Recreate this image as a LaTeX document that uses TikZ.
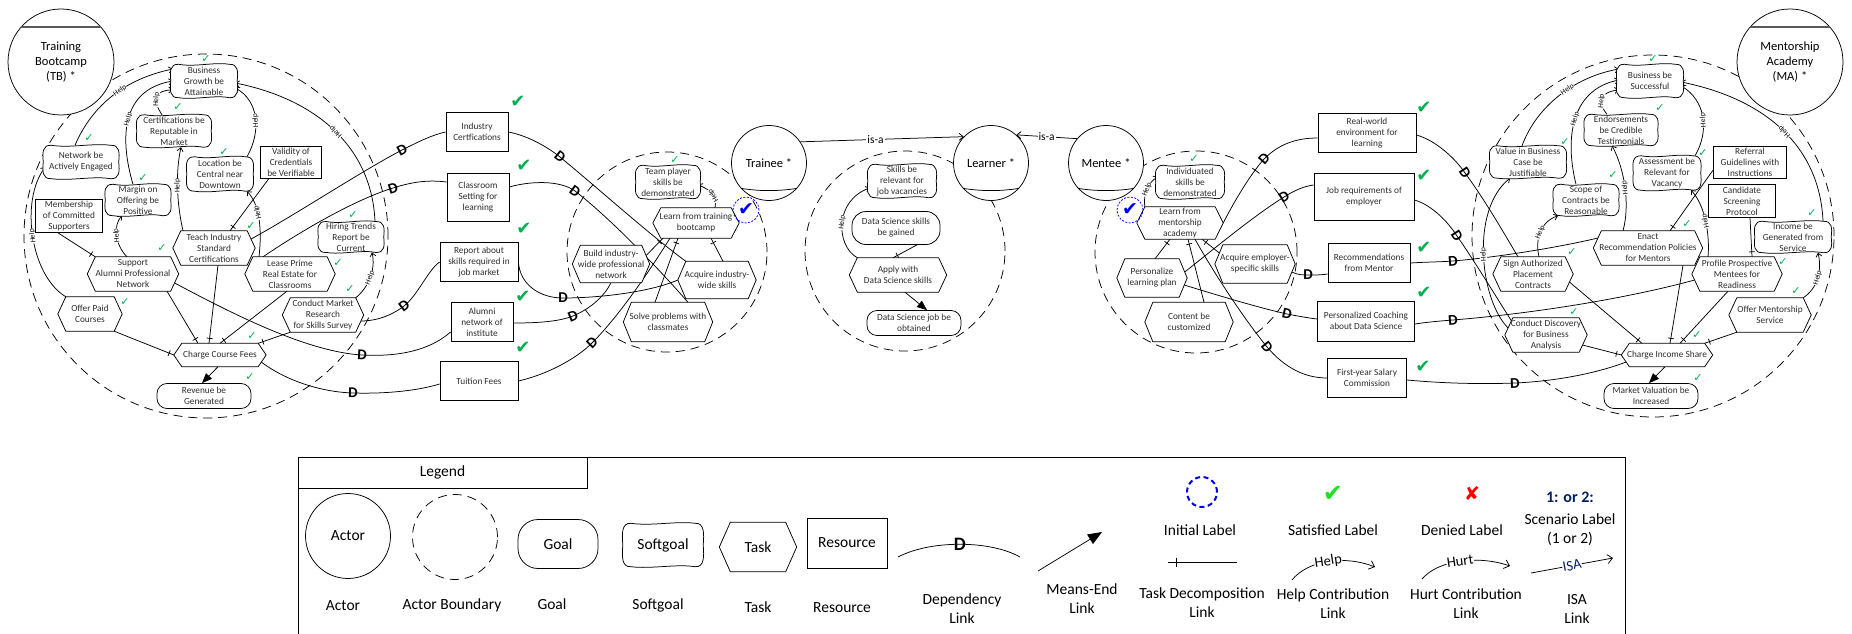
\documentclass[tikz,border=0pt]{standalone}
\usepackage{fontspec}
\setmainfont{Carlito}
\newfontfamily\symfont{DejaVu Sans}
\usetikzlibrary{arrows.meta,calc,decorations.markings}
\definecolor{chkgreen}{RGB}{0,176,80}
\definecolor{limegreen}{RGB}{30,225,30}
\definecolor{initblue}{RGB}{0,0,235}
\definecolor{navy}{RGB}{0,32,96}
\pgfdeclarelayer{bound}
\pgfdeclarelayer{links}
\pgfdeclarelayer{shapes}
\pgfsetlayers{bound,links,shapes,main}

% softgoal outline around a named node
\newcommand\sgpath[1]{($(#1.north west)+(6,0)$)
 .. controls ($(#1.north west)!0.35!(#1.north east)+(0,-3)$) and ($(#1.north west)!0.68!(#1.north east)+(0,2.5)$) .. ($(#1.north east)+(-6,0)$)
 .. controls ($(#1.north east)+(3,0.5)$) and ($(#1.north east)!0.45!(#1.east)+(3,0)$) .. ($(#1.east)+(2,0)$)
 .. controls ($(#1.east)!0.55!(#1.south east)+(3,0)$) and ($(#1.south east)+(3,-0.5)$) .. ($(#1.south east)+(-6,0)$)
 .. controls ($(#1.south west)!0.68!(#1.south east)+(0,3)$) and ($(#1.south west)!0.35!(#1.south east)+(0,-2.5)$) .. ($(#1.south west)+(6,0)$)
 .. controls ($(#1.south west)+(-3,-0.5)$) and ($(#1.south west)!0.45!(#1.west)+(-3,0)$) .. ($(#1.west)+(-2,0)$)
 .. controls ($(#1.west)!0.55!(#1.north west)+(-3,0)$) and ($(#1.north west)+(-3,0.5)$) .. ($(#1.north west)+(6,0)$) -- cycle}
% task hexagon around a named node
\newcommand\hexpath[2]{([xshift=#2]#1.north west) -- ([xshift=-#2]#1.north east) -- (#1.east) -- ([xshift=-#2]#1.south east) -- ([xshift=#2]#1.south west) -- (#1.west) -- cycle}

\tikzset{
 base/.style={align=center, inner sep=1pt, text=black!82, font=\fontsize{9.3}{11}\selectfont},
 sz/.style 2 args={minimum width=#1pt, minimum height=#2pt},
 resnode/.style={base, draw=black, fill=white, line width=.75pt},
 goalnode/.style={base, draw=black, fill=white, line width=.75pt, rounded corners=10pt},
 tasknode/.style={base},
 softnode/.style={base},
 outl/.style={draw=black, fill=white, line width=.75pt},
 link/.style={line width=.75pt},
 helpl/.style={link, -{Straight Barb[length=3.5pt,width=6pt]}},
 hlab/.style={font=\fontsize{7.5}{7.5}\selectfont, fill=white, inner sep=.4pt, sloped, allow upside down},
 meansend/.style={link, -{Triangle[length=10pt,width=8pt]}},
 decomp/.style={link, postaction={decorate}, decoration={markings, mark=at position -5pt with {\draw[line width=.75pt] (0,-3pt) -- (0,3pt);}}},
 dmark/.style={font=\bfseries\fontsize{15}{15}\selectfont, inner sep=0pt, sloped},
 bnd/.style={circle, draw, line width=.75pt, dash pattern=on 9pt off 6pt, inner sep=0pt},
 actor/.style={circle, draw, fill=white, line width=.75pt, font=\fontsize{12.5}{15}\selectfont, align=center, inner sep=0pt},
 schk/.style={font=\symfont\fontsize{11}{11}\selectfont, text=chkgreen, inner sep=0pt},
 bchk/.style={font=\symfont\fontsize{18}{18}\selectfont, text=chkgreen, inner sep=0pt},
 initl/.style={circle, draw=initblue, dash pattern=on 2pt off 1.5pt, line width=.75pt, minimum size=26pt, inner sep=0pt, font=\symfont\fontsize{19}{19}\selectfont, text=initblue},
 lgtxt/.style={font=\fontsize{15.5}{19}\selectfont, align=center, inner sep=0pt, text=black},
 lglab/.style={font=\fontsize{14.5}{15}\selectfont, fill=white, inner sep=.5pt, sloped},
 isalab/.style={font=\fontsize{11.5}{12}\selectfont, fill=white, inner sep=1pt},
}

\begin{document}
\begin{tikzpicture}[x=1pt, y=1pt]
\useasboundingbox (0,0) rectangle (1852,-634);

% ---------- actor boundaries ----------
\begin{pgfonlayer}{bound}
\fill[white] (0,0) rectangle (1852,-634);
\node[bnd, minimum size=364pt] (tb-b) at (206,-236) {};
\node[bnd, minimum size=200pt] (tr-b) at (667,-252) {};
\node[bnd, minimum size=200pt] (le-b) at (905,-251) {};
\node[bnd, minimum size=202pt] (me-b) at (1196,-252) {};
\node[bnd, minimum size=362pt] (ma-b) at (1653,-236) {};
\end{pgfonlayer}

% ---------- actors ----------
\node[actor, minimum size=106pt] (tb) at (61,-62) {Training\\Bootcamp\\(TB) *};
\draw[line width=1.6pt, black!65] (tb.139) -- (tb.41);
\node[actor, minimum size=106pt] (ma) at (1790,-62) {Mentorship\\Academy\\(MA) *};
\draw[line width=1.6pt, black!65] (ma.139) -- (ma.41);
\node[actor, minimum size=75pt] (tr) at (769,-163) {Trainee *};
\node[actor, minimum size=75pt] (le) at (991,-163) {Learner *};
\node[actor, minimum size=75pt] (me) at (1106,-163) {Mentee *};
\foreach \a in {tr,le,me}
  \draw[link] (\a.222) .. controls ($(\a.222)!0.33!(\a.318)+(0,-3)$) and ($(\a.222)!0.67!(\a.318)+(0,-3)$) .. (\a.318);

% ---------- Training Bootcamp ----------
\node[softnode, sz={62}{33}] (tb-bg) at (204,-81) {Business\\Growth be\\Attainable};
\node[softnode, sz={70}{32}] (tb-cert) at (174,-131) {Certifications be\\Reputable in\\Market};
\node[softnode, sz={71}{33}] (tb-net) at (81,-162) {Network be\\Actively Engaged};
\node[softnode, sz={62}{34}] (tb-loc) at (220,-174) {Location be\\Central near\\Downtown};
\node[resnode, sz={61}{32}] (tb-val) at (291,-162) {Validity of\\Credentials\\be Verifiable};
\node[softnode, sz={61}{31}] (tb-mar) at (138,-200) {Margin on\\Offering be\\Positive};
\node[resnode, sz={67}{33}] (tb-mem) at (69,-216) {Membership\\of Committed\\Supporters};
\node[softnode, sz={61}{30}] (tb-hir) at (351,-237) {Hiring Trends\\Report be\\Current};
\node[tasknode, sz={82}{34}] (tb-teach) at (214,-248) {Teach Industry\\Standard\\Certifications};
\node[tasknode, sz={91}{34}] (tb-sup) at (133,-274) {Support\\Alumni Professional\\Network};
\node[tasknode, sz={90}{34}] (tb-lease) at (290,-274) {Lease Prime\\Real Estate for\\Classrooms};
\node[tasknode, sz={64}{34}] (tb-offer) at (90,-314) {Offer Paid\\Courses};
\node[tasknode, sz={81}{34}] (tb-cond) at (323,-315) {Conduct Market\\Research\\for Skills Survey};
\node[tasknode, sz={92}{23}] (tb-charge) at (220,-355) {Charge Course Fees};
\node[goalnode, sz={94}{25}] (tb-rev) at (204,-396) {Revenue be\\Generated};

% ---------- resources between TB and Trainee ----------
\node[resnode, sz={62}{39}] (r-ind) at (477,-132) {Industry\\Certfications};
\node[resnode, sz={62}{48}] (r-cls) at (478,-197) {Classroom\\Setting for\\learning};
\node[resnode, sz={78}{39}] (r-rep) at (479,-262) {Report about\\skills required in\\job market};
\node[resnode, sz={62}{39}] (r-alu) at (482,-322) {Alumni\\network of\\institute};
\node[resnode, sz={78}{39}] (r-tui) at (479,-381) {Tuition Fees};

% ---------- Trainee ----------
\node[softnode, sz={60}{33}] (tr-team) at (668,-182) {Team player\\skills be\\demonstrated};
\node[tasknode, sz={86}{30}] (tr-lrn) at (696,-223) {Learn from training\\bootcamp};
\node[tasknode, sz={77}{37}] (tr-bld) at (611,-264) {Build industry-\\wide professional\\network};
\node[tasknode, sz={78}{37}] (tr-acq) at (717,-280) {Acquire industry-\\wide skills};
\node[tasknode, sz={89}{39}] (tr-sol) at (668,-322) {Solve problems with\\classmates};
\node[initl] (tr-init) at (746,-210) {✔};

% ---------- Learner ----------
\node[softnode, sz={64}{33}] (le-sk) at (902,-181) {Skills be\\relevant for\\job vacancies};
\node[goalnode, rounded corners=14pt, sz={88}{33}] (le-gain) at (896,-228) {Data Science skills\\be gained};
\node[tasknode, sz={97}{34}] (le-app) at (898,-275) {Apply with\\Data Science skills};
\node[goalnode, sz={94}{25}] (le-job) at (914,-323) {Data Science job be\\obtained};

% ---------- Mentee ----------
\node[softnode, sz={64}{33}] (me-ind) at (1190,-182) {Individuated\\skills be\\demonstrated};
\node[tasknode, sz={86}{32}] (me-lrn) at (1180,-223) {Learn from\\mentorship\\academy};
\node[tasknode, sz={70}{38}] (me-per) at (1152,-278) {Personalize\\learning plan};
\node[tasknode, sz={80}{38}] (me-acq) at (1255,-264) {Acquire employer-\\specific skills};
\node[tasknode, sz={88}{39}] (me-con) at (1189,-322) {Content be\\customized};
\node[initl] (me-init) at (1130,-210) {✔};

% ---------- resources between Mentee and MA ----------
\node[resnode, sz={98}{39}] (r-rw) at (1367,-133) {Real-world\\environment for\\learning};
\node[resnode, sz={100}{47}] (r-job) at (1364,-197) {Job requirements of\\employer};
\node[resnode, sz={82}{39}] (r-rec) at (1369,-263) {Recommendations\\from Mentor};
\node[resnode, sz={97}{40}] (r-pc) at (1366,-321) {Personalized Coaching\\about Data Science};
\node[resnode, sz={79}{39}] (r-fy) at (1367,-378) {First-year Salary\\Commission};

% ---------- Mentorship Academy ----------
\node[softnode, sz={62}{33}] (ma-bs) at (1650,-81) {Business be\\Successful};
\node[softnode, sz={69}{31}] (ma-end) at (1621,-130) {Endorsements\\be Credible\\Testimonials};
\node[softnode, sz={72}{32}] (ma-val) at (1528,-162) {Value in Business\\Case be\\Justifiable};
\node[softnode, sz={63}{34}] (ma-ass) at (1667,-173) {Assessment be\\Relevant for\\Vacancy};
\node[resnode, sz={73}{32}] (ma-ref) at (1750,-162) {Referral\\Guidelines with\\Instructions};
\node[softnode, sz={61}{31}] (ma-sco) at (1586,-200) {Scope of\\Contracts be\\Reasonable};
\node[resnode, sz={67}{33}] (ma-can) at (1742,-201) {Candidate\\Screening\\Protocol};
\node[softnode, sz={72}{31}] (ma-inc) at (1793,-237) {Income be\\Generated from\\Service};
\node[tasknode, sz={109}{34}] (ma-enact) at (1648,-248) {Enact\\Recommendation Policies\\for Mentors};
\node[tasknode, sz={80}{34}] (ma-sign) at (1533,-274) {Sign Authorized\\Placement\\Contracts};
\node[tasknode, sz={90}{34}] (ma-prof) at (1737,-274) {Profile Prospective\\Mentees for\\Readiness};
\node[tasknode, sz={82}{34}] (ma-offer) at (1770,-315) {Offer Mentorship\\Service};
\node[tasknode, sz={82}{34}] (ma-cond) at (1546,-335) {Conduct Discovery\\for Business\\Analysis};
\node[tasknode, sz={91}{23}] (ma-charge) at (1667,-355) {Charge Income Share};
\node[goalnode, sz={94}{25}] (ma-mkt) at (1651,-396) {Market Valuation be\\Increased};

% ---------- satisfied labels ----------
\foreach \x/\y [count=\i] in {206/59,178/107,89/138,224/152,143/178,353/215,251/226,162/248,338/263,125/302,350/289,252/336,250/377,675/160,1194/159,1653/59,1660/108,1565/142,1703/153,1613/175,1812/213,1687/224,1572/252,1783/262,1796/291,1574/312,1697/335,1698/378}
  \node[schk] (sc\i) at (\x,-\y) {✓};
\foreach \x/\y [count=\i] in {518/102,524/166,524/229,523/297,523/348,1424/108,1424/176,1424/248,1424/293,1423/367}
  \node[bchk] (bc\i) at (\x,-\y) {✔};

% ---------- legend ----------
\draw[line width=.9pt] (298,-634) -- (298,-457) -- (1625,-457) -- (1625,-634);
\node[draw, line width=.9pt, sz={289}{31}, lgtxt] (lg-head) at (442.5,-472.5) {Legend};
\node[actor, minimum size=85pt, font=\fontsize{15.5}{19}\selectfont] (lg-actor) at (348,-536) {Actor};
\node[bnd, minimum size=85pt] (lg-bound) at (455,-537) {};
\node[goalnode, rounded corners=20pt, sz={80}{49}, lgtxt] (lg-goal) at (558,-544) {Goal};
\node[softnode, sz={76}{43}, lgtxt] (lg-soft) at (663,-545) {Softgoal};
\node[tasknode, sz={77}{49}, lgtxt] (lg-task) at (758,-547) {Task};
\node[resnode, sz={80}{50}, lgtxt] (lg-res) at (847,-543) {Resource};
\node[circle, draw=initblue, line width=2pt, dash pattern=on 5pt off 3.5pt, minimum size=30pt, inner sep=0pt] (lg-init) at (1202,-492) {};
\node[font=\symfont\fontsize{24}{24}\selectfont, text=limegreen, inner sep=0pt] (lg-sat) at (1333,-494) {✔};
\node[font=\symfont\fontsize{19}{19}\selectfont, text=red, inner sep=0pt] (lg-den) at (1472,-493) {✘};
\node[font=\bfseries\fontsize{16}{16}\selectfont, text=navy, inner sep=0pt] (lg-scn) at (1570,-497) {1: or 2:};
\coordinate (lg-da) at (898,-557);  \coordinate (lg-db) at (1020,-557);
\coordinate (lg-ma) at (1038,-571); \coordinate (lg-mb) at (1102,-532);
\coordinate (lg-ta) at (1237,-562); \coordinate (lg-tb) at (1168,-562);
\coordinate (lg-ha) at (1292,-580); \coordinate (lg-hb) at (1375,-567);
\coordinate (lg-ua) at (1422,-579); \coordinate (lg-ub) at (1510,-566);
\coordinate (lg-ia) at (1531,-573); \coordinate (lg-ib) at (1613,-558);
\draw[link] (lg-da) .. controls (930,-540) and (990,-540) .. (lg-db) node[pos=.5, dmark, font=\bfseries\fontsize{19}{19}\selectfont]{D};
\draw[link, -{Triangle[length=14pt,width=11pt]}] (lg-ma) -- (lg-mb);
\draw[link, postaction={decorate}, decoration={markings, mark=at position -8pt with {\draw[line width=.75pt] (0,-4.5pt) -- (0,4.5pt);}}] (lg-ta) -- (lg-tb);
\draw[link, -{Straight Barb[length=5pt,width=9pt]}] (lg-ha) .. controls (1308,-560) and (1345,-555) .. (lg-hb) node[pos=.5, lglab]{Help};
\draw[link, -{Straight Barb[length=5pt,width=9pt]}] (lg-ua) .. controls (1438,-560) and (1478,-555) .. (lg-ub) node[pos=.5, lglab]{Hurt};
\draw[link, -{Straight Barb[length=5pt,width=9pt]}] (lg-ia) -- (lg-ib) node[pos=.5, lglab, text=navy]{ISA};
\node[lgtxt] (lt-actor) at (343,-606) {Actor};
\node[lgtxt] (lt-bound) at (452,-605) {Actor Boundary};
\node[lgtxt] (lt-goal) at (552,-604) {Goal};
\node[lgtxt] (lt-soft) at (658,-605) {Softgoal};
\node[lgtxt] (lt-task) at (758,-607) {Task};
\node[lgtxt] (lt-res) at (842,-608) {Resource};
\node[lgtxt] (lt-dep) at (962,-608.5) {Dependency\\Link};
\node[lgtxt] (lt-me) at (1082,-599) {Means-End\\Link};
\node[lgtxt] (lt-init) at (1200,-530) {Initial Label};
\node[lgtxt] (lt-dec) at (1202,-602.5) {Task Decomposition\\Link};
\node[lgtxt] (lt-sat) at (1333,-530) {Satisfied Label};
\node[lgtxt] (lt-help) at (1333,-603.5) {Help Contribution\\Link};
\node[lgtxt] (lt-den) at (1462,-530) {Denied Label};
\node[lgtxt] (lt-hurt) at (1466,-603.5) {Hurt Contribution\\Link};
\node[lgtxt] (lt-scn) at (1570,-530) {Scenario Label\\(1 or 2)};
\node[lgtxt] (lt-isa) at (1577,-608.5) {ISA\\Link};

% ---------- softgoal and task outlines ----------
\begin{pgfonlayer}{shapes}
\foreach \n in {tb-bg,tb-cert,tb-net,tb-loc,tb-mar,tb-hir,tr-team,le-sk,me-ind,ma-bs,ma-end,ma-val,ma-ass,ma-sco,ma-inc,lg-soft}
  \path[outl] \sgpath{\n};
\foreach \n in {tb-teach,tb-sup,tb-lease,tb-offer,tb-cond,tb-charge,tr-lrn,tr-bld,tr-acq,tr-sol,le-app,me-lrn,me-per,me-acq,me-con,ma-enact,ma-sign,ma-prof,ma-offer,ma-cond,ma-charge}
  \path[outl] \hexpath{\n}{8pt};
\path[outl] \hexpath{lg-task}{11pt};
\end{pgfonlayer}

% ---------- links ----------
\begin{pgfonlayer}{links}
% is-a
\draw[link, -{Straight Barb[length=4pt,width=7pt]}] (tr.34) -- (le.136) node[pos=.46, isalab]{is-a};
\draw[link, -{Straight Barb[length=4pt,width=7pt]}] (me.140) -- (le.48) node[pos=.5, isalab]{is-a};

% TB contributions
\draw[helpl] ([xshift=-6pt]tb-net.north) .. controls (90,-110) and (120,-80) .. ([yshift=12pt]tb-bg.west) node[hlab,pos=.6]{Help};
\draw[helpl] ([xshift=8pt]tb-offer.north west) .. controls (30,-275) and (20,-200) .. ([yshift=-5pt]tb-net.west) node[hlab,pos=.5]{Help};
\draw[helpl] ([xshift=-5pt]tb-mar.north) .. controls (120,-140) and (120,-90) .. (tb-bg.west) node[hlab,pos=.5]{Help};
\draw[helpl] ([xshift=-12pt]tb-cert.north) .. controls (152,-100) and (155,-90) .. ([yshift=-9pt]tb-bg.west) node[hlab,pos=.4]{Help};
\draw[helpl] ([xshift=27pt]tb-loc.north) .. controls (262,-130) and (258,-100) .. ([yshift=-7pt]tb-bg.east) node[hlab,pos=.45]{Help};
\draw[helpl] ([xshift=24pt]tb-hir.north) .. controls (372,-150) and (320,-100) .. ([yshift=-2pt]tb-bg.east) node[hlab,pos=.5]{Help};
\draw[helpl] ([xshift=-6pt]tb-sup.north) .. controls (115,-245) and (113,-225) .. ([xshift=-16pt]tb-mar.south) node[hlab,pos=.5]{Help};
\draw[helpl] ([xshift=-31pt]tb-teach.north) .. controls (176,-200) and (176,-170) .. ([xshift=7pt]tb-cert.south) node[hlab,pos=.5]{Help};
\draw[helpl] ([xshift=-31pt]tb-lease.north) .. controls (262,-230) and (260,-205) .. ([xshift=27pt]tb-loc.south) node[hlab,pos=.6]{Help};
\draw[helpl] ([xshift=-8pt]tb-cond.north east) .. controls (368,-288) and (376,-270) .. ([xshift=21pt]tb-hir.south) node[hlab,pos=.5]{Help};
% TB decompositions
\draw[decomp] ([xshift=-22pt]tb-val.south) -- ([xshift=16pt]tb-teach.north);
\draw[decomp] ([xshift=-11pt]tb-mem.south) -- ([xshift=8pt]tb-sup.north west);
\draw[decomp] ([xshift=34pt]tb-sup.south) -- ([xshift=-22pt]tb-charge.north);
\draw[decomp] ([xshift=4pt]tb-teach.south) -- ([xshift=-11pt]tb-charge.north);
\draw[decomp] ([xshift=-3pt]tb-lease.south) -- (tb-charge.north);
\draw[decomp] ([xshift=-8pt]tb-offer.south east) -- (tb-charge.west);
\draw[decomp] ([xshift=8pt]tb-cond.south west) -- ([xshift=-8pt]tb-charge.north east);
\draw[meansend] ([xshift=-2pt]tb-charge.south) -- ([xshift=-2pt]tb-rev.north);
% TB dependencies
\draw[link] ([xshift=-4pt,yshift=9pt]tb-teach.east) .. controls (300,-212) and (360,-172) .. (402,-150) node[dmark,pos=1]{D} .. controls (420,-141) and (432,-135) .. (r-ind.west);
\draw[link] ([xshift=-27pt]tb-lease.north) .. controls (310,-225) and (360,-198) .. (393,-188) node[dmark,pos=1]{D} .. controls (415,-181) and (430,-180) .. ([yshift=15pt]r-cls.west);
\draw[link] ([xshift=-3pt,yshift=-6pt]tb-cond.east) .. controls (380,-321) and (395,-313) .. (404,-306) node[dmark,pos=1]{D} .. controls (418,-295) and (428,-270) .. (r-rep.west);
\draw[link] ([xshift=-4pt,yshift=-9pt]tb-sup.east) .. controls (240,-318) and (310,-352) .. (362,-355) node[dmark,pos=1]{D} .. controls (400,-357) and (430,-350) .. ([yshift=-10pt]r-alu.west);
\draw[link] ([xshift=-5pt,yshift=-7pt]tb-charge.east) .. controls (285,-380) and (320,-392) .. (353,-393) node[dmark,pos=1]{D} .. controls (390,-394) and (420,-390) .. ([yshift=-3pt]r-tui.west);
% resources to Trainee
\draw[link] (r-ind.east) .. controls (525,-135) and (545,-145) .. (560,-157) node[dmark,pos=1]{D} .. controls (600,-190) and (650,-235) .. ([xshift=8pt]tr-acq.north west);
\draw[link] ([yshift=10pt]r-cls.east) .. controls (530,-181) and (560,-180) .. (575,-191) node[dmark,pos=1]{D} .. controls (610,-218) and (660,-270) .. ([xshift=20pt]tr-sol.north);
\draw[link] (r-rep.east) .. controls (520,-285) and (540,-298) .. (563,-298) node[dmark,pos=1]{D} .. controls (600,-298) and (650,-292) .. (tr-acq.west);
\draw[link] ([yshift=-1pt]r-alu.east) .. controls (535,-323) and (558,-322) .. (573,-316) node[dmark,pos=1]{D} .. controls (592,-308) and (605,-295) .. (tr-bld.south);
\draw[link] (r-tui.east) .. controls (545,-375) and (575,-360) .. (592,-343) node[dmark,pos=1]{D} .. controls (620,-315) and (650,-270) .. ([xshift=-26pt]tr-lrn.south);
% Trainee
\draw[decomp] ([xshift=-4pt,yshift=8pt]tr-bld.east) -- ([xshift=-33pt]tr-lrn.south);
\draw[decomp] ([xshift=-13pt]tr-sol.north) -- ([xshift=-18pt]tr-lrn.south);
\draw[decomp] ([xshift=6pt]tr-acq.north) -- ([xshift=15pt]tr-lrn.south);
\draw[helpl] ([xshift=19pt]tr-lrn.north) .. controls (717,-198) and (712,-190) .. ([yshift=-3pt]tr-team.east) node[hlab,pos=.45]{Help};
% Learner
\draw[helpl] ([xshift=8pt]le-app.north west) .. controls (835,-245) and (835,-200) .. ([yshift=-7pt]le-sk.west) node[hlab,pos=.5]{Help};
\draw[decomp] ([xshift=21pt]le-gain.south) -- ([xshift=-5pt]le-app.north);
\draw[meansend] ([xshift=7pt]le-app.south) -- ([xshift=13pt]le-job.north);
% Mentee
\draw[helpl] ([xshift=8pt]me-lrn.north west) .. controls (1143,-195) and (1148,-182) .. ([yshift=5pt]me-ind.west) node[hlab,pos=.5]{Help};
\draw[decomp] ([xshift=3pt]me-per.north) -- ([xshift=-10pt]me-lrn.south);
\draw[decomp] ([xshift=15pt]me-con.north) -- ([xshift=8pt]me-lrn.south);
\draw[decomp] ([xshift=4.5pt,yshift=11pt]me-acq.west) -- ([xshift=22pt]me-lrn.south);
\draw[link] (me-lrn.east) .. controls (1235,-200) and (1250,-175) .. (1264,-159) node[dmark,pos=1]{D} .. controls (1280,-143) and (1298,-138) .. ([yshift=-5pt]r-rw.west);
\draw[link] ([xshift=-2.5pt,yshift=6pt]me-per.east) .. controls (1215,-248) and (1255,-215) .. (1284,-197) node[dmark,pos=1]{D} .. controls (1295,-190) and (1305,-186) .. ([yshift=12pt]r-job.west);
\draw[link] ([xshift=-3.4pt,yshift=-8pt]me-acq.east) .. controls (1298,-275) and (1303,-275) .. (1308,-275) node[dmark,pos=1]{D} .. controls (1315,-275) and (1322,-275) .. ([yshift=-11pt]r-rec.west);
\draw[link] ([xshift=-3pt,yshift=-7pt]me-per.east) .. controls (1220,-296) and (1260,-308) .. (1287,-314) node[dmark,pos=1]{D} .. controls (1298,-316) and (1308,-318) .. ([yshift=2pt]r-pc.west);
\draw[link] ([xshift=15pt]me-lrn.south) .. controls (1215,-275) and (1245,-320) .. (1267,-347) node[dmark,pos=1]{D} .. controls (1285,-368) and (1305,-378) .. (r-fy.west);
% resources to MA
\draw[link] ([yshift=-2pt]r-rw.east) .. controls (1435,-140) and (1455,-158) .. (1465,-173) node[dmark,pos=1]{D} .. controls (1485,-200) and (1505,-235) .. ([xshift=-15pt]ma-sign.north);
\draw[link] ([yshift=-3pt]r-job.east) .. controls (1432,-205) and (1448,-222) .. (1457,-236) node[dmark,pos=1]{D} .. controls (1475,-262) and (1495,-295) .. ([xshift=6.6pt,yshift=-3pt]ma-cond.north west);
\draw[link] (r-rec.east) .. controls (1425,-262) and (1440,-262) .. (1453,-261) node[dmark,pos=1]{D} .. controls (1500,-257) and (1560,-247) .. ([xshift=4.7pt,yshift=10pt]ma-enact.west);
\draw[link] ([yshift=-3pt]r-pc.east) .. controls (1428,-322) and (1440,-321) .. (1453,-320) node[dmark,pos=1]{D} .. controls (1550,-312) and (1640,-295) .. ([xshift=2.8pt,yshift=-6pt]ma-prof.west);
\draw[link] ([yshift=-2pt]r-fy.east) .. controls (1450,-384) and (1490,-384) .. (1515,-383) node[dmark,pos=1]{D} .. controls (1560,-381) and (1600,-372) .. ([xshift=4.9pt,yshift=-7pt]ma-charge.west);
% MA contributions
\draw[helpl] ([xshift=-6pt]ma-val.north) .. controls (1535,-110) and (1570,-78) .. ([yshift=12pt]ma-bs.west) node[hlab,pos=.6]{Help};
\draw[helpl] ([xshift=-10pt]ma-sco.north) .. controls (1565,-140) and (1570,-90) .. ([yshift=1pt]ma-bs.west) node[hlab,pos=.5]{Help};
\draw[helpl] ([xshift=-14pt]ma-end.north) .. controls (1597,-102) and (1600,-92) .. ([yshift=-9pt]ma-bs.west) node[hlab,pos=.4]{Help};
\draw[helpl] ([xshift=28pt]ma-ass.north) .. controls (1710,-130) and (1705,-100) .. ([yshift=-5pt]ma-bs.east) node[hlab,pos=.45]{Help};
\draw[helpl] ([xshift=30pt]ma-inc.north) .. controls (1820,-150) and (1770,-100) .. ([yshift=-1pt]ma-bs.east) node[hlab,pos=.5]{Help};
\draw[helpl] ([xshift=6pt]ma-sign.north) .. controls (1535,-240) and (1540,-222) .. ([xshift=-28pt]ma-sco.south) node[hlab,pos=.5]{Help};
\draw[helpl] ([xshift=-25pt]ma-enact.north) .. controls (1630,-205) and (1625,-170) .. ([xshift=-9pt]ma-end.south) node[hlab,pos=.5]{Help};
\draw[helpl] ([xshift=-29pt]ma-prof.north) .. controls (1710,-235) and (1705,-205) .. ([xshift=24pt]ma-ass.south) node[hlab,pos=.5]{Help};
\draw[helpl] ([xshift=-8pt]ma-offer.north east) .. controls (1818,-288) and (1822,-270) .. ([xshift=25pt]ma-inc.south) node[hlab,pos=.5]{Help};
\draw[helpl] ([xshift=3.3pt,yshift=7pt]ma-cond.west) .. controls (1480,-300) and (1470,-210) .. ([xshift=-18pt]ma-val.south) node[hlab,pos=.5]{Help};
% MA decompositions
\draw[decomp] ([yshift=-8pt]ma-ref.west) -- ([xshift=22pt]ma-enact.north);
\draw[decomp] ([xshift=8pt]ma-can.south) -- ([xshift=15pt]ma-prof.north);
\draw[decomp] ([xshift=-3.8pt,yshift=-8pt]ma-sign.east) -- ([xshift=-25pt]ma-charge.north);
\draw[decomp] ([xshift=35pt]ma-enact.south) -- ([xshift=3pt]ma-charge.north);
\draw[decomp] ([xshift=-9pt]ma-prof.south) -- ([xshift=13pt]ma-charge.north);
\draw[decomp] ([xshift=8pt]ma-offer.south west) -- ([xshift=-8pt]ma-charge.north east);
\draw[decomp] ([xshift=-4.7pt,yshift=-10pt]ma-cond.east) -- (ma-charge.west);
\draw[meansend] ([xshift=-2pt]ma-charge.south) -- ([xshift=-2pt]ma-mkt.north);
\end{pgfonlayer}
\end{tikzpicture}
\end{document}
